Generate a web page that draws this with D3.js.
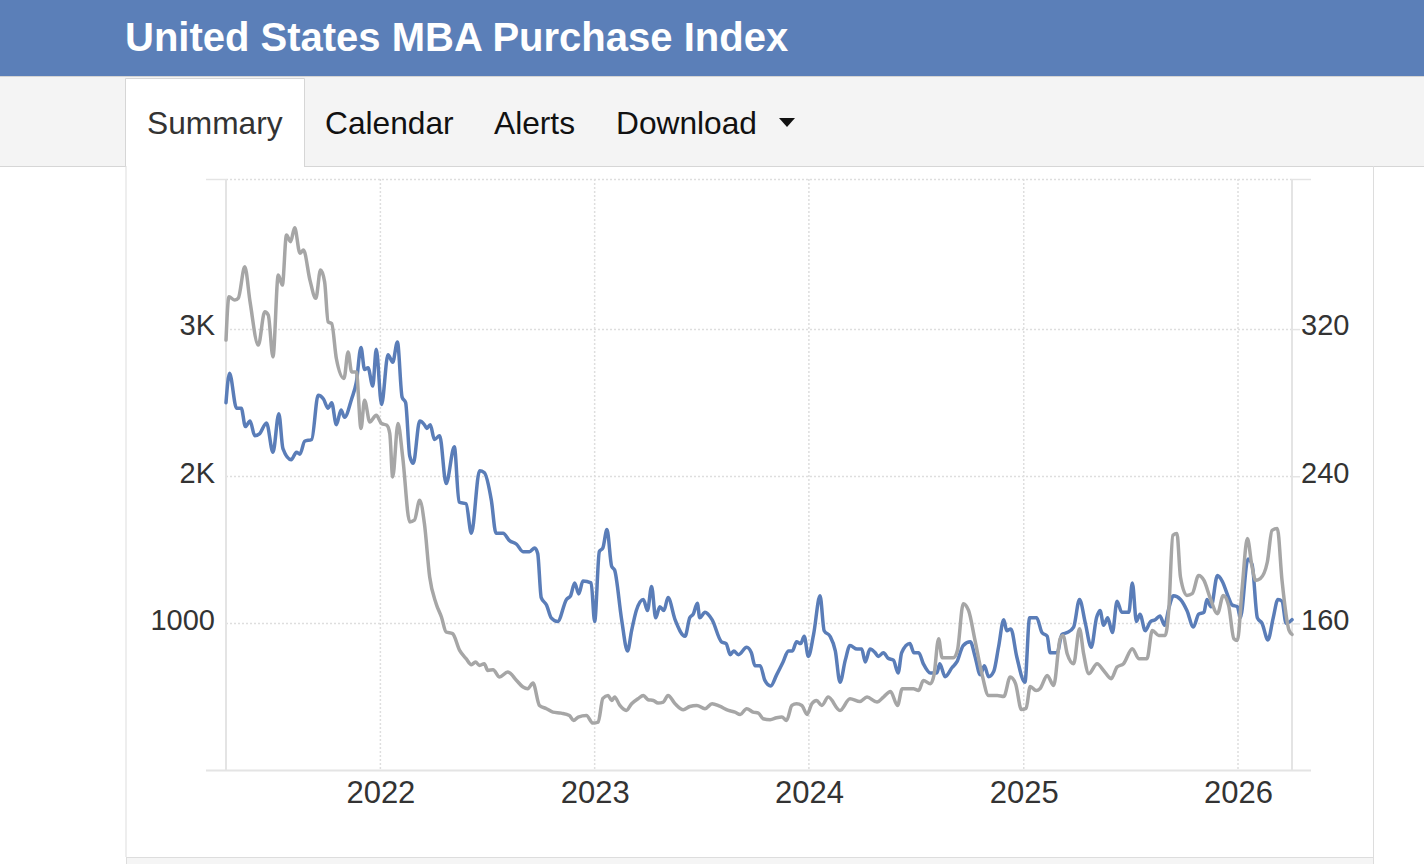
<!DOCTYPE html>
<html>
<head>
<meta charset="utf-8">
<title>United States MBA Purchase Index</title>
<script src="https://cdn.jsdelivr.net/npm/d3@7"></script>
<style>
    body { margin: 0; background: #ffffff; }
    svg { display: block; font-family: "Liberation Sans", Arial, Helvetica, sans-serif; }
</style>
</head>
<body>
<div id="chart"></div>
<script>
// Weekly readings (gray = refinance, left axis)
const grayDates = ["2021-04-13","2021-04-18","2021-04-28","2021-05-04","2021-05-15","2021-05-24","2021-06-07","2021-06-18","2021-06-24","2021-07-02",
    "2021-07-11","2021-07-18","2021-07-25","2021-08-01","2021-08-08","2021-08-17","2021-08-23","2021-09-03","2021-09-13","2021-09-21",
    "2021-09-28","2021-10-04","2021-10-10","2021-10-18","2021-10-31","2021-11-07","2021-11-13","2021-11-21","2021-11-29","2021-12-05",
    "2021-12-14","2021-12-25","2022-01-03","2022-01-12","2022-01-17","2022-01-22","2022-01-31","2022-02-08","2022-02-20","2022-02-28",
    "2022-03-09","2022-03-17","2022-03-26","2022-04-06","2022-04-15","2022-04-23","2022-05-04","2022-05-16","2022-05-27","2022-06-05",
    "2022-06-12","2022-06-19","2022-06-27","2022-07-03","2022-07-12","2022-07-23","2022-08-06","2022-08-21","2022-09-01","2022-09-09",
    "2022-09-18","2022-09-29","2022-10-11","2022-10-22","2022-11-05","2022-11-19","2022-11-26","2022-12-04","2022-12-18","2022-12-29",
    "2023-01-07","2023-01-15","2023-01-24","2023-01-30","2023-02-04","2023-02-13","2023-02-24","2023-03-05","2023-03-16","2023-03-25",
    "2023-04-02","2023-04-11","2023-04-19","2023-04-28","2023-05-06","2023-05-18","2023-06-01","2023-06-12","2023-06-24","2023-07-08",
    "2023-07-20","2023-08-02","2023-08-17","2023-08-28","2023-09-06","2023-09-17","2023-09-28","2023-10-07","2023-10-15","2023-10-27",
    "2023-11-07","2023-11-16","2023-11-24","2023-12-03","2023-12-11","2023-12-20","2023-12-29","2024-01-06","2024-01-14","2024-01-23",
    "2024-02-03","2024-02-23","2024-03-11","2024-03-28","2024-04-09","2024-04-26","2024-05-07","2024-05-19","2024-05-31","2024-06-08",
    "2024-06-27","2024-07-06","2024-07-14","2024-07-26","2024-08-01","2024-08-09","2024-08-15","2024-09-03","2024-09-10","2024-09-20",
    "2024-09-29","2024-10-10","2024-10-22","2024-11-02","2024-11-17","2024-11-28","2024-12-09","2024-12-18","2024-12-28","2025-01-05",
    "2025-01-12","2025-01-22","2025-01-29","2025-02-10","2025-02-21","2025-03-04","2025-03-09","2025-03-16","2025-03-27","2025-04-06",
    "2025-04-13","2025-04-22","2025-05-06","2025-05-17","2025-05-30","2025-06-09","2025-06-20","2025-07-05","2025-07-16","2025-07-30",
    "2025-08-08","2025-08-19","2025-08-30","2025-09-05","2025-09-12","2025-09-19","2025-09-25","2025-10-06","2025-10-15","2025-10-26",
    "2025-11-04","2025-11-15","2025-11-27","2025-12-07","2025-12-16","2025-12-25","2025-12-31","2026-01-08","2026-01-17","2026-01-25",
    "2026-01-31","2026-02-08","2026-02-20","2026-02-28","2026-03-09","2026-03-17","2026-03-29","2026-04-03"];
const grayValues = [2925,3219,3197,3211,3423,3185,2891,3117,3095,2811,
    3367,3299,3639,3594,3689,3515,3537,3333,3209,3401,
    3321,3049,3038,2800,2664,2845,2709,2709,2324,2517,
    2369,2415,2358,2347,2290,1995,2358,2131,1689,1701,
    1837,1678,1315,1134,1043,941,930,816,760,719,
    737,714,726,680,685,635,669,612,567,556,
    594,442,420,397,390,374,340,363,374,322,
    329,490,510,476,499,442,408,454,488,510,
    481,476,458,465,510,454,413,435,442,420,
    454,437,408,397,381,420,397,390,352,345,
    358,363,340,442,454,442,381,454,476,442,
    499,408,488,469,499,465,499,537,442,556,
    556,544,612,590,646,896,767,767,816,1134,
    1088,884,653,510,510,503,635,590,415,422,
    571,544,558,646,578,896,918,794,726,964,
    794,658,726,680,624,703,726,828,760,760,
    952,918,918,1088,1598,1610,1315,1190,1202,1326,
    1292,1168,1066,1190,1122,896,884,1236,1576,1383,
    1292,1304,1417,1632,1644,1292,952,925];

// Purchase index (blue, right axis)
const blueDates = ["2021-04-13","2021-04-19","2021-05-01","2021-05-09","2021-05-16","2021-05-24","2021-06-01","2021-06-09","2021-06-21","2021-07-02",
    "2021-07-12","2021-07-19","2021-08-02","2021-08-11","2021-08-17","2021-08-25","2021-09-06","2021-09-17","2021-09-26","2021-10-04",
    "2021-10-10","2021-10-18","2021-10-26","2021-11-01","2021-11-13","2021-11-21","2021-11-29","2021-12-05","2021-12-11","2021-12-19",
    "2021-12-25","2022-01-03","2022-01-14","2022-01-22","2022-01-30","2022-02-07","2022-02-13","2022-02-20","2022-02-26","2022-03-09",
    "2022-03-17","2022-03-21","2022-03-27","2022-04-03","2022-04-12","2022-04-23","2022-05-07","2022-05-15","2022-05-27","2022-06-05",
    "2022-06-19","2022-06-27","2022-07-09","2022-07-17","2022-07-29","2022-08-09","2022-08-21","2022-09-01","2022-09-12","2022-09-21",
    "2022-09-26","2022-10-02","2022-10-11","2022-10-19","2022-10-30","2022-11-14","2022-11-21","2022-11-28","2022-12-05","2022-12-12",
    "2022-12-26","2023-01-01","2023-01-09","2023-01-15","2023-01-22","2023-01-30","2023-02-04","2023-02-16","2023-02-26","2023-03-05",
    "2023-03-13","2023-03-25","2023-04-01","2023-04-08","2023-04-15","2023-04-22","2023-04-29","2023-05-06","2023-05-18","2023-06-04",
    "2023-06-12","2023-06-18","2023-06-25","2023-06-29","2023-07-08","2023-07-20","2023-08-05","2023-08-13","2023-08-20","2023-08-26",
    "2023-09-03","2023-09-17","2023-09-25","2023-10-01","2023-10-10","2023-10-18","2023-10-28","2023-11-07","2023-11-18","2023-11-27",
    "2023-12-04","2023-12-11","2023-12-18","2023-12-24","2023-12-31","2024-01-09","2024-01-20","2024-01-27","2024-02-06","2024-02-15",
    "2024-02-23","2024-03-03","2024-03-11","2024-03-23","2024-03-31","2024-04-06","2024-04-14","2024-04-23","2024-04-28","2024-05-07",
    "2024-05-15","2024-05-24","2024-06-01","2024-06-07","2024-06-21","2024-06-28","2024-07-06","2024-07-14","2024-07-26","2024-08-06",
    "2024-08-11","2024-08-20","2024-09-01","2024-09-09","2024-09-20","2024-10-02","2024-10-10","2024-10-19","2024-10-26","2024-11-02",
    "2024-11-11","2024-11-19","2024-11-28","2024-12-03","2024-12-10","2024-12-20","2025-01-03","2025-01-11","2025-01-23","2025-02-01",
    "2025-02-10","2025-02-15","2025-02-27","2025-03-07","2025-03-16","2025-03-27","2025-04-06","2025-04-16","2025-04-26","2025-05-05",
    "2025-05-11","2025-05-17","2025-05-24","2025-06-01","2025-06-09","2025-06-17","2025-06-29","2025-07-05","2025-07-12","2025-07-18",
    "2025-07-27","2025-08-05","2025-08-13","2025-08-21","2025-08-29","2025-09-05","2025-09-13","2025-09-25","2025-10-06","2025-10-17",
    "2025-10-26","2025-11-04","2025-11-09","2025-11-16","2025-11-27","2025-12-05","2025-12-16","2025-12-22","2025-12-31","2026-01-05",
    "2026-01-18","2026-01-25","2026-02-03","2026-02-11","2026-02-21","2026-03-02","2026-03-10","2026-03-17","2026-03-24","2026-04-03"];
const blueValues = [280,296,277,277,267,270,262,263,269,253,
    274,255,249,253,252,259,260,284,282,277,
    280,268,276,272,282,291,310,298,299,289,
    309,279,306,302,313,283,280,251,247,270,
    268,266,268,260,262,236,256,226,225,209,
    243,242,227,209,209,205,203,199,199,201,
    198,174,170,163,161,173,175,182,176,183,
    182,161,199,201,211,191,189,162,145,156,
    167,173,167,180,163,169,167,174,162,153,
    163,165,171,163,166,162,150,149,143,145,
    143,147,144,137,137,129,126,132,139,145,
    145,150,149,153,142,154,175,156,153,145,
    128,140,148,146,146,139,146,144,142,144,
    141,140,133,144,149,144,144,138,133,133,
    138,131,136,139,148,150,142,132,137,131,
    134,147,162,156,157,142,128,163,163,155,
    153,144,144,154,155,158,173,160,147,163,
    167,159,163,155,172,166,166,182,161,165,
    156,161,162,164,159,168,175,173,167,158,
    165,166,173,169,186,183,174,170,169,163,
    195,192,163,160,151,163,173,172,160,162];

// Axis ticks
const leftTicks = [1000, 2000, 3000];
const leftTickLabels = ["1000", "2K", "3K"];
const rightTicks = [160, 240, 320];
const yearTicks = ["2022-01-01", "2023-01-01", "2024-01-01", "2025-01-01", "2026-01-01"];

// Page chrome
const title = "United States MBA Purchase Index";
const tabs = ["Summary", "Calendar", "Alerts", "Download"];

const parseDate = d3.timeParse("%Y-%m-%d");
const grayData = grayDates.map((d, i) => ({date: parseDate(d), value: grayValues[i]}));
const blueData = blueDates.map((d, i) => ({date: parseDate(d), value: blueValues[i]}));

const W = 1424, H = 864;
const plot = {left: 226, right: 1292, top: 179, bottom: 770.5};

const svg = d3.select("#chart")
    .append("svg")
        .attr("width", W)
        .attr("height", H);

// ---------- header + tab bar ----------
svg.append("rect")
    .attr("x", 0).attr("y", 0)
    .attr("width", W).attr("height", 76)
    .attr("fill", "#5b7fb8");

svg.append("text")
    .attr("x", 125)
    .attr("y", 51)
    .attr("fill", "#ffffff")
    .attr("font-size", "40px")
    .attr("font-weight", "bold")
    .text(title);

svg.append("rect")
    .attr("x", 0).attr("y", 76)
    .attr("width", W).attr("height", 90)
    .attr("fill", "#f4f4f4");

svg.append("line")
    .attr("x1", 0).attr("x2", W)
    .attr("y1", 76.5).attr("y2", 76.5)
    .attr("stroke", "#d4d4d4");

svg.append("line")
    .attr("x1", 0).attr("x2", W)
    .attr("y1", 166.5).attr("y2", 166.5)
    .attr("stroke", "#d6d6d6");

// active tab, open at the bottom
svg.append("rect")
    .attr("x", 125.5).attr("y", 78)
    .attr("width", 179).attr("height", 90)
    .attr("fill", "#ffffff");
svg.append("path")
    .attr("d", "M125.5,167 V78.5 H304.5 V167")
    .attr("fill", "none")
    .attr("stroke", "#d6d6d6");

const tabX = [147, 325, 494, 616];
svg.selectAll(".tab")
    .data(tabs)
    .enter()
    .append("text")
        .attr("class", "tab")
        .attr("x", (d, i) => tabX[i])
        .attr("y", 134)
        .attr("font-size", "31.7px")
        .attr("fill", (d, i) => i === 0 ? "#333333" : "#111111")
        .text(d => d);

// dropdown caret next to Download
svg.append("path")
    .attr("d", "M779,118 L795,118 L787,127 Z")
    .attr("fill", "#111111");

// content panel borders
svg.append("line")
    .attr("x1", 126).attr("x2", 126).attr("y1", 166).attr("y2", 857)
    .attr("stroke", "#dddddd");
svg.append("line")
    .attr("x1", 1373.5).attr("x2", 1373.5).attr("y1", 166).attr("y2", 857)
    .attr("stroke", "#dddddd");
svg.append("rect")
    .attr("x", 126.5).attr("y", 857.5)
    .attr("width", 1247).attr("height", 12)
    .attr("fill", "#f5f5f5")
    .attr("stroke", "#dddddd");

// ---------- scales ----------
const xScale = d3.scaleTime()
    .domain([grayData[0].date, grayData[grayData.length - 1].date])
    .range([plot.left, plot.right]);

const yLeft = d3.scaleLinear()
    .domain([0, 4020])
    .range([plot.bottom, plot.top]);

const yRight = d3.scaleLinear()
    .domain([80, 401.6])
    .range([plot.bottom, plot.top]);

const gridColor = "#dedede";
const axisColor = "#e4e4e4";

// horizontal gridlines (dotted), including the top edge
const gridG = svg.append("g");
gridG.selectAll(".hgrid")
    .data(leftTicks.concat([yLeft.domain()[1]]))
    .enter()
    .append("line")
        .attr("x1", plot.left).attr("x2", plot.right)
        .attr("y1", d => Math.round(yLeft(d)) + 0.5)
        .attr("y2", d => Math.round(yLeft(d)) + 0.5)
        .attr("stroke", gridColor)
        .attr("stroke-width", 1.5)
        .attr("stroke-dasharray", "2,2");

// vertical gridlines at each year
gridG.selectAll(".vgrid")
    .data(yearTicks.map(parseDate))
    .enter()
    .append("line")
        .attr("x1", d => xScale(d)).attr("x2", d => xScale(d))
        .attr("y1", plot.top).attr("y2", plot.bottom)
        .attr("stroke", gridColor)
        .attr("stroke-width", 1.5)
        .attr("stroke-dasharray", "2,2");

// axis lines and the outer ticks at top/bottom
svg.append("line")
    .attr("x1", plot.left).attr("x2", plot.left)
    .attr("y1", plot.top).attr("y2", plot.bottom)
    .attr("stroke", axisColor).attr("stroke-width", 2);
svg.append("line")
    .attr("x1", plot.right).attr("x2", plot.right)
    .attr("y1", plot.top).attr("y2", plot.bottom)
    .attr("stroke", axisColor).attr("stroke-width", 2);
svg.append("line")
    .attr("x1", plot.left - 20).attr("x2", plot.right + 19)
    .attr("y1", plot.bottom).attr("y2", plot.bottom)
    .attr("stroke", axisColor).attr("stroke-width", 2);
svg.append("line")
    .attr("x1", plot.left - 20).attr("x2", plot.left)
    .attr("y1", plot.top + 0.5).attr("y2", plot.top + 0.5)
    .attr("stroke", axisColor).attr("stroke-width", 1.5);
svg.append("line")
    .attr("x1", plot.right).attr("x2", plot.right + 19)
    .attr("y1", plot.top + 0.5).attr("y2", plot.top + 0.5)
    .attr("stroke", axisColor).attr("stroke-width", 1.5);

// ---------- axes ----------
const leftAxis = svg.append("g")
    .attr("transform", "translate(" + plot.left + ",0)")
    .call(d3.axisLeft(yLeft)
        .tickValues(leftTicks)
        .tickFormat((d, i) => leftTickLabels[i])
        .tickSize(0)
        .tickPadding(11));

const rightAxis = svg.append("g")
    .attr("transform", "translate(" + plot.right + ",0)")
    .call(d3.axisRight(yRight)
        .tickValues(rightTicks)
        .tickSize(8)
        .tickPadding(1));

const bottomAxis = svg.append("g")
    .attr("transform", "translate(0," + plot.bottom + ")")
    .call(d3.axisBottom(xScale)
        .tickValues(yearTicks.map(parseDate))
        .tickFormat(d3.timeFormat("%Y"))
        .tickSize(0)
        .tickPadding(10));

[leftAxis, rightAxis, bottomAxis].forEach(g => {
    g.select(".domain").remove();
    g.selectAll("line").attr("stroke", axisColor).attr("stroke-width", 1.5);
    g.selectAll("text")
        .attr("fill", "#333333")
        .attr("font-family", "'Liberation Sans', Arial, Helvetica, sans-serif");
});
leftAxis.selectAll("text").attr("font-size", "29px").attr("dy", "0.2em");
rightAxis.selectAll("text").attr("font-size", "29px").attr("dy", "0.2em");
bottomAxis.selectAll("text").attr("font-size", "31px");

// ---------- series ----------
const blueLine = d3.line()
    .x(d => xScale(d.date))
    .y(d => yRight(d.value))
    .curve(d3.curveMonotoneX);

const grayLine = d3.line()
    .x(d => xScale(d.date))
    .y(d => yLeft(d.value))
    .curve(d3.curveMonotoneX);

svg.append("path")
    .datum(blueData)
    .attr("fill", "none")
    .attr("stroke", "#5a7db8")
    .attr("stroke-width", 3.5)
    .attr("stroke-linejoin", "round")
    .attr("stroke-linecap", "round")
    .attr("d", blueLine);

svg.append("path")
    .datum(grayData)
    .attr("fill", "none")
    .attr("stroke", "#a6a6a6")
    .attr("stroke-width", 3.5)
    .attr("stroke-linejoin", "round")
    .attr("stroke-linecap", "round")
    .attr("d", grayLine);
</script>
</body>
</html>
